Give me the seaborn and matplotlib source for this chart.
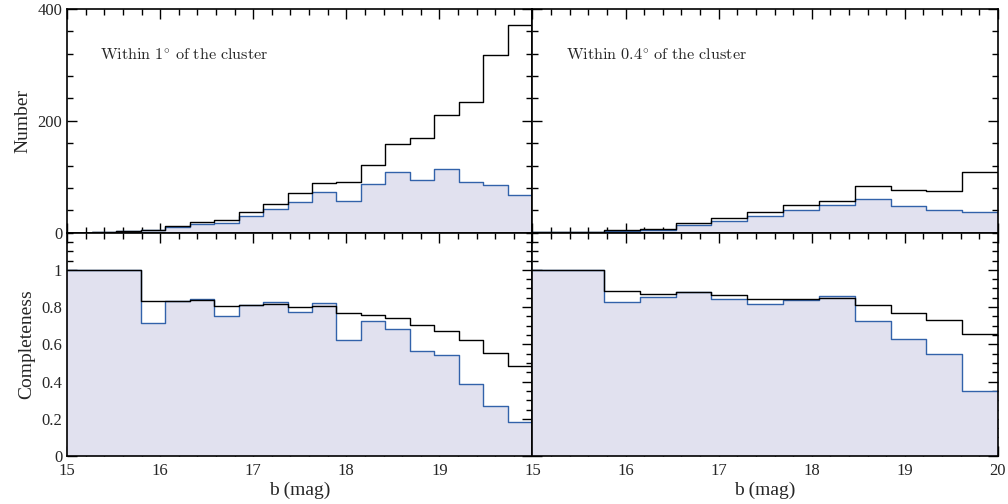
import numpy as np
import pandas as pd
import matplotlib.pyplot as plt
import seaborn as sns
from matplotlib.ticker import MultipleLocator, FixedLocator, FuncFormatter

# bin edges (b mag): 19 bins inside 1 deg, 13 bins inside 0.4 deg
edges_1deg = np.linspace(15, 20, 20)
edges_04deg = np.linspace(15, 20, 14)

# star counts, total (black) and recovered (blue)
n_all_1deg = [0, 1, 3, 5, 11, 19, 23, 37, 52, 70, 88, 90, 121, 159, 169, 210, 234, 318, 371]
n_rec_1deg = [0, 1, 2, 4, 10, 16, 17, 29, 43, 54, 72, 56, 87, 109, 94, 114, 90, 85, 67]
n_all_04deg = [1, 1, 4, 6, 17, 26, 37, 49, 57, 83, 77, 74, 108]
n_rec_04deg = [1, 1, 3, 5, 14, 21, 30, 40, 49, 60, 47, 40, 37]

# completeness
c_all_1deg = [1.0, 1.0, 1.0, 0.832, 0.832, 0.838, 0.805, 0.809, 0.818, 0.80, 0.805,
              0.766, 0.757, 0.743, 0.705, 0.673, 0.623, 0.554, 0.484]
c_rec_1deg = [1.0, 1.0, 1.0, 0.713, 0.832, 0.843, 0.75, 0.811, 0.829, 0.775, 0.82,
              0.625, 0.725, 0.684, 0.563, 0.545, 0.389, 0.268, 0.184]
c_all_04deg = [1.0, 1.0, 0.886, 0.873, 0.879, 0.863, 0.845, 0.841, 0.85, 0.81,
               0.771, 0.732, 0.657]
c_rec_04deg = [1.0, 1.0, 0.83, 0.855, 0.88, 0.846, 0.814, 0.836, 0.859, 0.725,
               0.627, 0.546, 0.352]

BLUE = '#3262aa'
FILL = '#e1e1ef'

sns.set_style("ticks")
plt.rcParams['font.family'] = ['Liberation Serif', 'DejaVu Serif']
plt.rcParams['mathtext.fontset'] = 'cm'


def draw_hist(ax, edges, total, recovered):
    centers = 0.5 * (edges[:-1] + edges[1:])
    df = pd.DataFrame({'b': centers, 'total': total, 'rec': recovered})
    bins = [float(e) for e in edges]
    sns.histplot(data=df, x='b', weights='rec', bins=bins, element='step', fill=True,
                 color=FILL, alpha=1, edgecolor='none', ax=ax)
    sns.histplot(data=df, x='b', weights='rec', bins=bins, element='step', fill=False,
                 color=BLUE, linewidth=1.0, ax=ax)
    sns.histplot(data=df, x='b', weights='total', bins=bins, element='step', fill=False,
                 color='black', linewidth=1.0, ax=ax)
    ax.set_ylabel('')
    ax.set_xlabel('')


fig, axes = plt.subplots(2, 2, figsize=(10.08, 5.04), dpi=100)
plt.subplots_adjust(left=0.0665, right=0.990, top=0.982, bottom=0.095,
                    wspace=0, hspace=0)

draw_hist(axes[0, 0], edges_1deg, n_all_1deg, n_rec_1deg)
draw_hist(axes[0, 1], edges_04deg, n_all_04deg, n_rec_04deg)
draw_hist(axes[1, 0], edges_1deg, c_all_1deg, c_rec_1deg)
draw_hist(axes[1, 1], edges_04deg, c_all_04deg, c_rec_04deg)

for ax in axes.flat:
    ax.set_xlim(15, 20)
    ax.xaxis.set_major_locator(MultipleLocator(1))
    ax.xaxis.set_minor_locator(MultipleLocator(0.2))
    ax.tick_params(which='both', direction='in', top=True, right=True,
                   labelsize=12, width=1, color='black')
    ax.tick_params(which='major', length=7)
    ax.tick_params(which='minor', length=4)
    ax.tick_params(axis='x', pad=5)
    for s in ax.spines.values():
        s.set_linewidth(1.2)
        s.set_color('black')

for ax in axes[0]:
    ax.set_ylim(0, 400)
    ax.yaxis.set_major_locator(MultipleLocator(200))
    ax.yaxis.set_minor_locator(MultipleLocator(40))
    ax.tick_params(labelbottom=False)

for ax in axes[1]:
    ax.set_ylim(0, 1.2)
    ax.yaxis.set_major_locator(FixedLocator([0, 0.2, 0.4, 0.6, 0.8, 1.0]))
    ax.yaxis.set_minor_locator(MultipleLocator(0.05))
    ax.yaxis.set_major_formatter(FuncFormatter(lambda v, p: f'{v:g}'))
    ax.set_xlabel('b (mag)', fontsize=14, labelpad=2)

for ax in axes[:, 1]:
    ax.tick_params(labelleft=False)

axes[1, 0].xaxis.set_major_formatter(FuncFormatter(lambda v, p: '' if v >= 20 else f'{v:g}'))
axes[1, 1].xaxis.set_major_formatter(FuncFormatter(lambda v, p: f'{v:g}'))

axes[0, 0].set_ylabel('Number', fontsize=14)
axes[1, 0].set_ylabel('Completeness', fontsize=14)

axes[0, 0].text(0.071, 0.79, r'$\mathrm{Within\ 1^{\circ}\ of\ the\ cluster}$',
                transform=axes[0, 0].transAxes, fontsize=11.7, va='center')
axes[0, 1].text(0.073, 0.79, r'$\mathrm{Within\ 0.4^{\circ}\ of\ the\ cluster}$',
                transform=axes[0, 1].transAxes, fontsize=11.7, va='center')

plt.savefig('out.png', dpi=100)
plt.close()
